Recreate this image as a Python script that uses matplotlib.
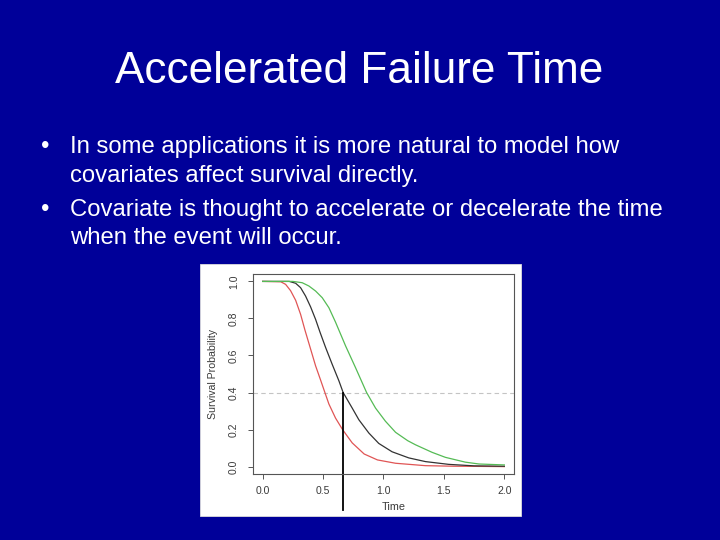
import matplotlib
matplotlib.use("Agg")
import matplotlib.pyplot as plt
from matplotlib.patches import Rectangle

plt.rcParams['font.family'] = ['Liberation Sans', 'DejaVu Sans']

# slide text
title = "Accelerated Failure Time"
bullet_lines = [
    ["In some applications it is more natural to model how",
     "covariates affect survival directly."],
    ["Covariate is thought to accelerate or decelerate the time",
     "when the event will occur."],
]

# survival curves
time_red = [0.0, 0.15, 0.19, 0.231, 0.273, 0.314, 0.35, 0.397, 0.438, 0.479,
            0.515, 0.548, 0.603, 0.662, 0.741, 0.84, 0.95, 1.1, 1.347, 1.58,
            1.8, 2.0]
surv_red = [1.0, 0.998, 0.984, 0.95, 0.898, 0.822, 0.737, 0.634, 0.544, 0.468,
            0.40, 0.338, 0.262, 0.199, 0.128, 0.068, 0.036, 0.018, 0.005, 0.002,
            0.001, 0.0]

time_black = [0.0, 0.22, 0.273, 0.314, 0.355, 0.397, 0.438, 0.475, 0.521, 0.575,
              0.631, 0.666, 0.741, 0.796, 0.879, 0.961, 1.071, 1.209, 1.347,
              1.54, 1.75, 2.0]
surv_black = [1.0, 1.0, 0.99, 0.966, 0.921, 0.862, 0.795, 0.725, 0.643, 0.553,
              0.463, 0.40, 0.316, 0.253, 0.181, 0.125, 0.08, 0.047, 0.027,
              0.012, 0.004, 0.002]

time_green = [0.0, 0.25, 0.327, 0.383, 0.438, 0.493, 0.548, 0.603, 0.686, 0.768,
              0.86, 0.934, 1.016, 1.1, 1.2, 1.264, 1.402, 1.512, 1.677,
              1.79, 2.0]
surv_green = [1.0, 1.0, 0.993, 0.975, 0.948, 0.912, 0.858, 0.78, 0.652, 0.535,
              0.40, 0.316, 0.245, 0.185, 0.14, 0.118, 0.077, 0.05, 0.024,
              0.014, 0.009]

h_level = 0.4
v_time = 0.667

x_ticks = [0.0, 0.5, 1.0, 1.5, 2.0]
y_ticks = [0.0, 0.2, 0.4, 0.6, 0.8, 1.0]

W, H = 720, 540


def fx(px):
    return px / W


def fy(py):
    return 1 - py / H


fig = plt.figure(figsize=(7.2, 5.4), dpi=100, facecolor="#000099")

fig.text(fx(359), fy(82.7), title, color="white", fontsize=31.8,
         ha="center", va="baseline")

baselines = [[152.7, 181.7], [216, 244.5]]
for lines, ys in zip(bullet_lines, baselines):
    fig.text(fx(45), fy(ys[0]), "\u2022", color="white", fontsize=17.2,
             ha="center", va="baseline")
    for line, yb in zip(lines, ys):
        fig.text(fx(70), fy(yb), line, color="white", fontsize=17.2,
                 ha="left", va="baseline")

# white picture behind the plot
fig.patches.append(Rectangle((fx(200), fy(516)), (521 - 200) / W, (516 - 264) / H,
                             transform=fig.transFigure, facecolor="white",
                             edgecolor="#dddddd", lw=0.6, zorder=-5))

ax = fig.add_axes([fx(253), fy(474), (514 - 253) / W, (474 - 274) / H])
ax.set_facecolor("white")

ax.axhline(h_level, color="#c4c4c4", lw=0.8, dashes=(4, 3))
ax.plot(time_red, surv_red, color="#e05555", lw=0.9)
ax.plot(time_black, surv_black, color="#333333", lw=0.9)
ax.plot(time_green, surv_green, color="#55bb55", lw=0.9)
ax.plot([v_time, v_time], [h_level, -0.235], color="black", lw=1.3,
        clip_on=False)

ax.set_xlim(-0.08, 2.08)
ax.set_ylim(-0.04, 1.04)
ax.set_xticks(x_ticks)
ax.set_yticks(y_ticks)
ax.set_xticklabels(["%.1f" % v for v in x_ticks])
ax.set_yticklabels(["%.1f" % v for v in y_ticks], rotation=90, va="center")
ax.tick_params(axis="both", direction="out", length=3.6, width=0.7,
               colors="#555555", labelcolor="#3a3a3a", labelsize=7.5)
ax.tick_params(axis="x", pad=5)
ax.tick_params(axis="y", pad=6.5)
for s in ax.spines.values():
    s.set_color("#555555")
    s.set_linewidth(0.8)

ax.text(0.538, -0.165, "Time", transform=ax.transAxes, ha="center",
        va="center", fontsize=7.8, color="#3a3a3a")
ax.text(-0.153, 0.5, "Survival Probability", transform=ax.transAxes,
        ha="center", va="center", rotation=90, fontsize=7.6, color="#3a3a3a")

fig.savefig("out.png", dpi=100, facecolor=fig.get_facecolor())
